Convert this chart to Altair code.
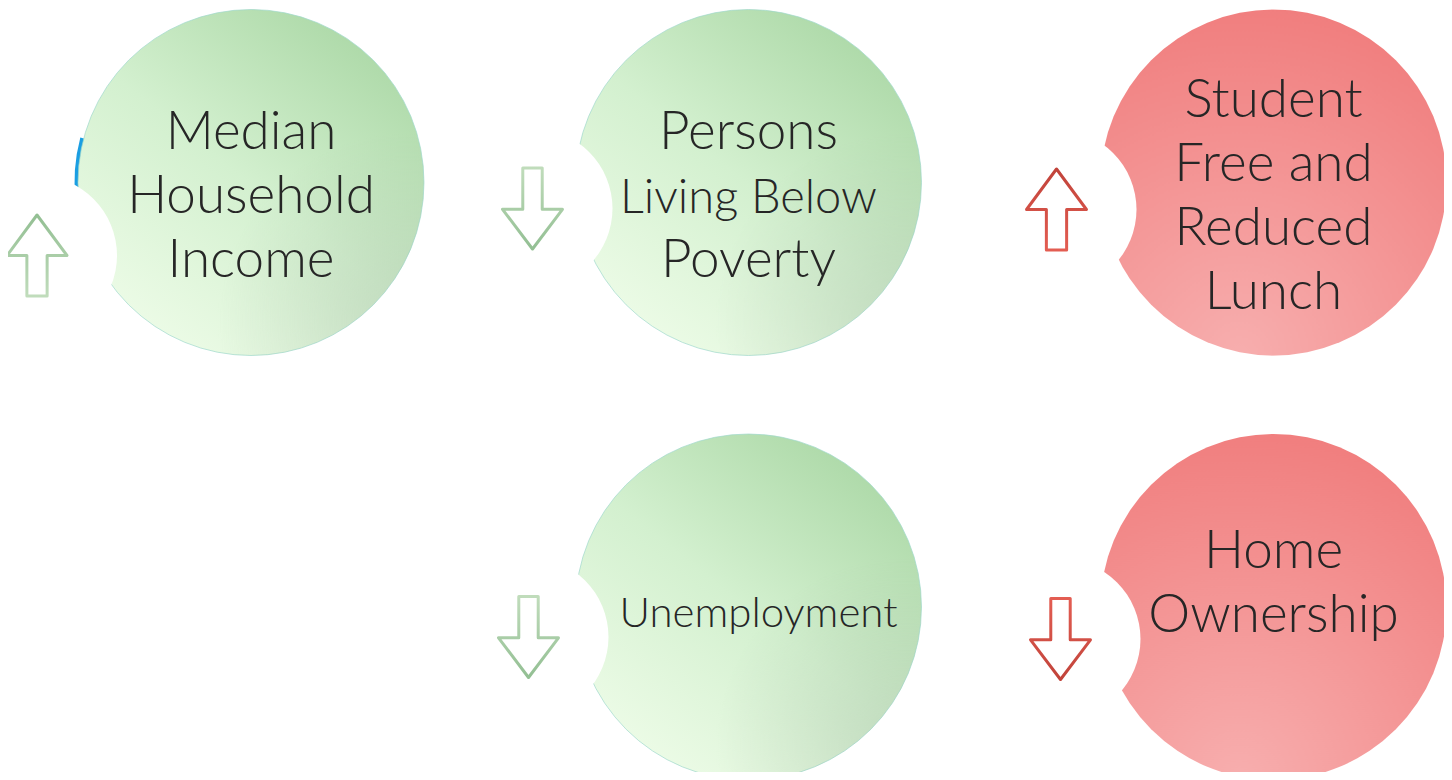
import altair as alt
import pandas as pd

# ---------------- data ----------------
indicators = ["Median Household Income", "Persons Living Below Poverty",
              "Student Free and Reduced Lunch", "Unemployment", "Home Ownership"]
label_lines = [["Median", "Household", "Income"],
               ["Persons", "Living Below", "Poverty"],
               ["Student", "Free and", "Reduced", "Lunch"],
               ["Unemployment"],
               ["Home", "Ownership"]]
direction = ["up", "down", "up", "down", "down"]
impact = ["good", "good", "bad", "good", "bad"]
grid_col = [0, 1, 2, 1, 2]
grid_row = [0, 0, 0, 1, 1]

# ---------------- layout (pixels) ----------------
W, H = 1436, 764
col_px = [243, 740.5, 1265.5]
row_px = [174.5, 599]
R = 173
CUT_R = 80
ARROW_HALF = 40.5
arrow_dx = [-214, -216, -217, -220, -213]
arrow_dy = [73, 26, 27, 30, 32]
text_dy = [30, 30, 30, 20, -7]
text_dx = [0, 0, 0, 10, 0]
LINE_H = 64
BASE_FONT = 53
small_lines = {"Living Below": 47, "Unemployment": 42}

cx = [col_px[c] for c in grid_col]
cy = [row_px[r] for r in grid_row]

items = pd.DataFrame({
    "name": indicators, "direction": direction, "impact": impact,
    "cx": cx, "cy": cy,
    "ax": [x + d for x, d in zip(cx, arrow_dx)],
    "ay": [y + d for y, d in zip(cy, arrow_dy)],
})

rows = []
for i, lines in enumerate(label_lines):
    n = len(lines)
    for j, ln in enumerate(lines):
        rows.append({
            "name": indicators[i], "line": ln,
            "size": small_lines.get(ln, BASE_FONT),
            "tx": cx[i] + text_dx[i],
            "ty": cy[i] + text_dy[i] + (j - (n - 1) / 2) * LINE_H,
        })
lines_df = pd.DataFrame(rows)

sx = alt.Scale(domain=[0, W], range=[0, W])
sy = alt.Scale(domain=[0, H], range=[0, H])


def XY(xf, yf):
    return dict(x=alt.X(f"{xf}:Q", scale=sx, axis=None),
                y=alt.Y(f"{yf}:Q", scale=sy, axis=None))


green_fill = {"gradient": "linear", "x1": 0.15, "y1": 1.0, "x2": 0.9, "y2": 0.05,
              "stops": [{"offset": 0, "color": "#f0fdea"},
                        {"offset": 0.5, "color": "#d3f0cf"},
                        {"offset": 1, "color": "#a8d6a3"}]}
green_shade = {"gradient": "radial", "x1": 0.95, "y1": 0.9, "r1": 0,
               "x2": 0.95, "y2": 0.9, "r2": 0.55,
               "stops": [{"offset": 0, "color": "rgba(150,170,150,0.30)"},
                         {"offset": 1, "color": "rgba(150,170,150,0)"}]}
red_fill = {"gradient": "radial", "x1": 0.4, "y1": 1.0, "r1": 0,
            "x2": 0.4, "y2": 1.0, "r2": 1.05,
            "stops": [{"offset": 0, "color": "#f7aeae"},
                      {"offset": 1, "color": "#f07c7c"}]}

big_size = (2 * R) ** 2
circ = alt.Chart(items).encode(**XY("cx", "cy"))
arr = alt.Chart(items).encode(**XY("ax", "ay"))

blue_edge = circ.transform_filter(alt.datum.name == indicators[0]).mark_arc(
    theta=4.6, theta2=4.97, radius=176.5, radius2=170, color="#1a9ee2")

green_circles = circ.transform_filter(alt.datum.impact == "good").mark_circle(
    size=big_size, fill=green_fill, opacity=1, stroke="#9fd8cb", strokeWidth=0.7)
green_shades = circ.transform_filter(alt.datum.impact == "good").mark_circle(
    size=big_size, fill=green_shade, opacity=1)
red_circles = circ.transform_filter(alt.datum.impact == "bad").mark_circle(
    size=big_size, fill=red_fill, opacity=1)

cutouts = arr.mark_circle(size=(2 * CUT_R) ** 2, color="white", opacity=1)

up_path = "M0,-1 L0.74,0 L0.25,0 L0.25,1 L-0.25,1 L-0.25,0 L-0.74,0 Z"
down_path = "M-0.24,-1 L0.24,-1 L0.24,0.02 L0.74,0.02 L0,1 L-0.74,0.02 L-0.24,0.02 Z"


def grad(dark, light, dark_on_top):
    a, b = (dark, light) if dark_on_top else (light, dark)
    return {"gradient": "linear", "x1": 0, "y1": 0, "x2": 0, "y2": 1,
            "stops": [{"offset": 0, "color": a}, {"offset": 1, "color": b}]}


G_DARK, G_LIGHT = "#93bf93", "#c0dcbb"
R_DARK, R_LIGHT = "#c1433a", "#e35d52"

arrow_layers = []
for imp, d, dk, lt in [("good", "up", G_DARK, G_LIGHT), ("good", "down", G_DARK, G_LIGHT),
                       ("bad", "up", R_DARK, R_LIGHT), ("bad", "down", R_DARK, R_LIGHT)]:
    arrow_layers.append(
        arr.transform_filter((alt.datum.impact == imp) & (alt.datum.direction == d))
        .mark_point(shape=up_path if d == "up" else down_path,
                    size=(2 * ARROW_HALF) ** 2, filled=False,
                    stroke=grad(dk, lt, d == "up"), strokeWidth=3,
                    strokeJoin="round", opacity=1)
    )

texts = alt.Chart(lines_df).mark_text(
    font="Lato", fontWeight=300, color="#262626", align="center", baseline="alphabetic"
).encode(
    **XY("tx", "ty"),
    text="line:N",
    size=alt.Size("size:Q", scale=None),
)

chart = alt.layer(
    blue_edge, green_circles, green_shades, red_circles, cutouts, *arrow_layers, texts
).properties(
    width=W, height=H,
    autosize=alt.AutoSizeParams(type="none"),
    padding=0,
    background="white",
).configure_view(strokeWidth=0)

chart.save("out.html", embed_options={"renderer": "svg", "actions": False})
